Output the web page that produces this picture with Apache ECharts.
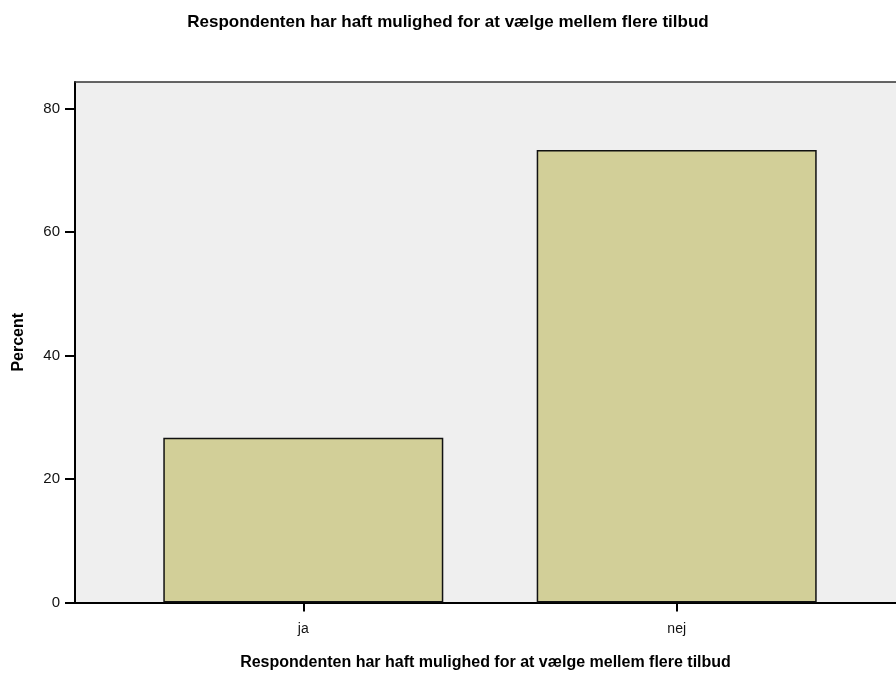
<!DOCTYPE html>
<html>
<head>
<meta charset="utf-8">
<script src="https://cdn.jsdelivr.net/npm/echarts@6/dist/echarts.min.js"></script>
<style>html,body{margin:0;padding:0;background:#fff}#c{width:896px;height:679px}</style>
</head>
<body>
<div id="c"></div>
<script>
var titleText = 'Respondenten har haft mulighed for at vælge mellem flere tilbud';
var categories = ['ja', 'nej'];
var percentValues = [26.7, 73.3];
var yTicks = [0, 20, 40, 60, 80];

var chart = echarts.init(document.getElementById('c'), null, {renderer: 'canvas'});
var font = '"Liberation Sans", Arial, Helvetica, sans-serif';
var data = categories.map(function (c, i) { return [i, percentValues[i]]; });
var catIdx = categories.map(function (c, i) { return i; });

chart.setOption({
  animation: false,
  backgroundColor: '#ffffff',
  textStyle: {fontFamily: font},
  title: {
    text: titleText,
    left: 'center',
    top: 9,
    textStyle: {fontFamily: font, fontSize: 17, fontWeight: 'bold', color: '#000'}
  },
  grid: {
    left: 75, top: 82, right: 0, bottom: 76.5,
    show: true, backgroundColor: '#efefef', borderWidth: 0,
    containLabel: false
  },
  xAxis: [{
    type: 'value',
    min: -0.6114, max: 1.5873,
    name: titleText,
    nameLocation: 'middle',
    nameGap: 52,
    nameTextStyle: {fontFamily: font, fontSize: 16, fontWeight: 'bold', color: '#000'},
    axisLine: {show: true, onZero: false, lineStyle: {color: '#000', width: 2}},
    axisTick: {show: true, customValues: catIdx, length: 9, lineStyle: {color: '#000', width: 2}},
    axisLabel: {customValues: catIdx, margin: 20, fontSize: 14, color: '#111', fontFamily: font,
      formatter: function (v) { return categories[Math.round(v)]; }},
    splitLine: {show: false}
  }, {
    type: 'value',
    position: 'top',
    min: -0.6114, max: 1.5873,
    axisLine: {show: true, onZero: false, lineStyle: {color: '#333', width: 1.5}},
    axisTick: {show: false},
    axisLabel: {show: false},
    splitLine: {show: false}
  }],
  yAxis: {
    type: 'value',
    min: 0, max: 84.3,
    name: 'Percent',
    nameLocation: 'middle',
    nameGap: 48,
    nameRotate: 90,
    nameTextStyle: {fontFamily: font, fontSize: 16, fontWeight: 'bold', color: '#000'},
    axisLine: {show: true, onZero: false, lineStyle: {color: '#000', width: 2}},
    axisTick: {show: true, customValues: yTicks, length: 10, lineStyle: {color: '#000', width: 2}},
    axisLabel: {customValues: yTicks, margin: 15, fontSize: 15, color: '#111', fontFamily: font},
    splitLine: {show: false}
  },
  series: [{
    type: 'bar',
    data: data,
    barWidth: 280,
    itemStyle: {color: '#d2cf98', borderColor: '#111', borderWidth: 1.5}
  }]
});
</script>
</body>
</html>
